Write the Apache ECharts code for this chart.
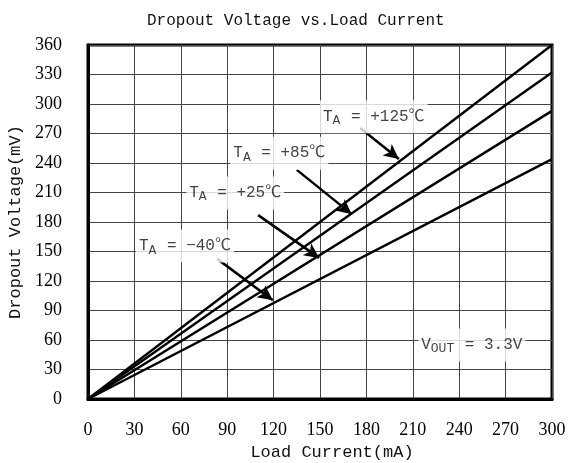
<!DOCTYPE html>
<html><head><meta charset="utf-8">
<script src="https://cdn.jsdelivr.net/npm/echarts@6/dist/echarts.min.js"></script>
<style>html,body{margin:0;padding:0;background:#fff}#c{width:570px;height:463px}</style>
</head><body><div id="c"></div>
<script>
const xTicks = [0,30,60,90,120,150,180,210,240,270,300];
const yTicks = [0,30,60,90,120,150,180,210,240,270,300,330,360];
const loadCurrent = [0, 300];
const v125 = [0, 360];
const v85 = [0, 332];
const v25 = [0, 293];
const vm40 = [0, 244];
const labelTexts = ['+125℃', '+85℃', '+25℃', '−40℃'];
const labelPos = [[150, 287], [92, 250], [63.5, 209.5], [31, 155.5]];
const arrowFrom = [[176, 275.5], [135, 233], [110, 187], [83.5, 142.5]];
const arrowTo = [[201, 244], [170.5, 188], [149.5, 143.5], [119.5, 100.5]];
const voutPos = [213.5, 55];

const mono = 'Liberation Mono, Noto Sans CJK SC, monospace';
const serif = 'Liberation Serif, serif';
const chart = echarts.init(document.getElementById('c'), null, {renderer: 'canvas'});
function pair(ys) { return loadCurrent.map((x, i) => [x, ys[i]]); }
function lineSeries(ys) {
  return {type: 'line', data: pair(ys), showSymbol: false, symbol: 'none',
    lineStyle: {color: '#000', width: 2.4}, z: 3, silent: true};
}
const rich = {
  t: {fontFamily: mono, fontSize: 16, color: '#111'},
  s: {fontFamily: mono, fontSize: 13, color: '#111', padding: [8, 1, 0, 0]}
};
const labelData = labelTexts.map((t, i) => ({value: labelPos[i], txt: '{t|T}{s|A}{t| = ' + t + '}'}));
labelData.push({value: voutPos, txt: '{t|V}{s|OUT}{t| = 3.3V}'});
chart.setOption({
  animation: false,
  title: {text: 'Dropout Voltage vs.Load Current', left: 142, top: 8,
    textStyle: {fontFamily: mono, fontSize: 16, fontWeight: 'normal', color: '#111'}},
  grid: {left: 88, right: 18, top: 45, bottom: 64, show: true, borderColor: '#000', borderWidth: 3,
    backgroundColor: 'transparent', containLabel: false, outerBoundsMode: 'none'},
  xAxis: {type: 'value', min: 0, max: 300, interval: 30,
    name: 'Load Current(mA)', nameLocation: 'middle', nameGap: 44,
    nameTextStyle: {fontFamily: mono, fontSize: 17, color: '#111', padding: [0, 0, 0, 24]},
    axisLine: {show: true, lineStyle: {color: '#000', width: 3}},
    axisTick: {show: false},
    axisLabel: {margin: 22, fontFamily: serif, fontSize: 18, color: '#000', formatter: v => xTicks.includes(v) ? String(v) : ''},
    splitLine: {show: true, lineStyle: {color: '#444', width: 1}}},
  yAxis: {type: 'value', min: 0, max: 360, interval: 30,
    name: 'Dropout Voltage(mV)', nameLocation: 'middle', nameGap: 62,
    nameTextStyle: {fontFamily: mono, fontSize: 17, color: '#111'},
    axisLine: {show: true, lineStyle: {color: '#000', width: 3}},
    axisTick: {show: false},
    axisLabel: {margin: 26, fontFamily: serif, fontSize: 18, color: '#000', formatter: v => yTicks.includes(v) ? String(v) : ''},
    splitLine: {show: true, lineStyle: {color: '#444', width: 1}}},
  series: [
    lineSeries(v125), lineSeries(v85), lineSeries(v25), lineSeries(vm40),
    {type: 'scatter', symbolSize: 0, z: 5, silent: true,
      data: labelData,
      label: {show: true, position: 'right', distance: 0, formatter: p => p.data.txt,
        backgroundColor: '#fff', padding: [6, 3, 6, 3], rich: rich}},
    {type: 'line', data: [], z: 6, silent: true,
      markLine: {silent: true, symbol: ['none', 'arrow'], symbolSize: [11, 15], animation: false,
        label: {show: false},
        lineStyle: {color: '#000', width: 2.5, type: 'solid'},
        data: arrowFrom.map((f, i) => [{coord: f}, {coord: arrowTo[i]}])}}
  ]
});
</script></body></html>
